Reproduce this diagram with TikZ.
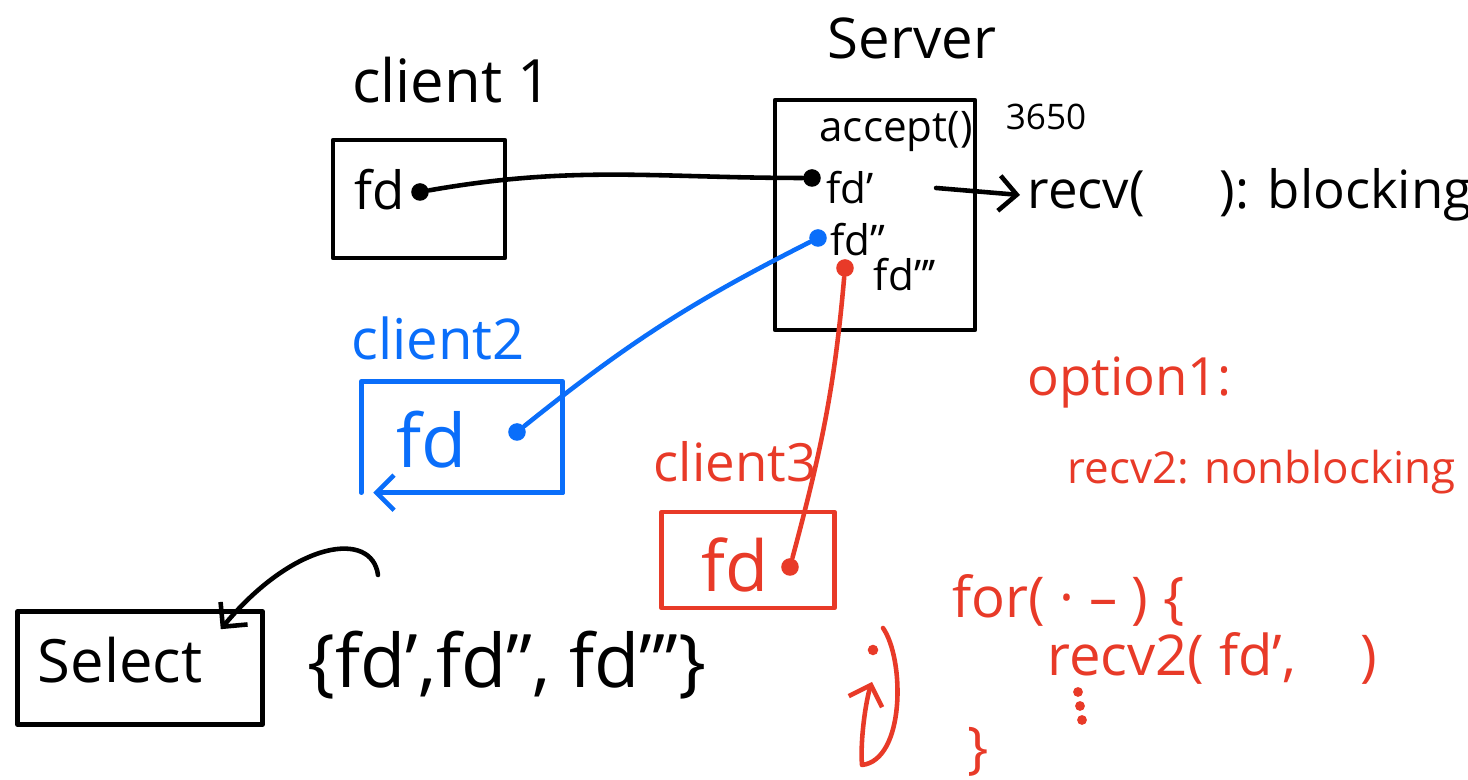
\documentclass[tikz,border=0pt]{standalone}
\usepackage{fontspec}
\setmainfont{Open Sans}
\usetikzlibrary{arrows.meta}
\definecolor{pen_blue}{RGB}{10, 110, 250}
\definecolor{pen_red}{RGB}{232, 58, 40}

\tikzset{
  pen/.style={line width=1.3pt, line cap=round, line join=round},
  box/.style={pen, draw, inner sep=0pt},
  dot/.style={circle, fill, inner sep=0pt, minimum size=5pt},
  tip/.style={-{Straight Barb[length=5pt, width=10pt]}},
  fs/.style={font=\fontsize{#1}{#1}\selectfont}
}

\begin{document}
\begin{tikzpicture}
\useasboundingbox (0, 0) rectangle (14.68, 7.8);

\node[fs=16] (server) at (9.12, 7.42) {Server};
\node[fs=17] (c1label) at (4.52, 7.0) {client 1};

% server socket
\node[box, minimum width=2.0cm, minimum height=2.3cm] (srvbox) at (8.75, 5.65) {};
\node[fs=12] (accept) at (8.96, 6.48) {accept()};
\node[fs=10] (port) at (10.46, 6.63) {3650};
\node[fs=12] (fdp) at (8.5, 5.92) {fd'};
\node[fs=12] (fdpp) at (8.58, 5.40) {fd''};
\node[fs=12] (fdppp) at (9.05, 5.05) {fd'''};
\node[fs=15, anchor=west, inner sep=2pt] (recv) at (10.2, 5.85) {recv(\hspace{0.75cm}): blocking};
\draw[pen, tip] ([xshift=0.5cm]fdp.east) -- (recv.west);

% client 1
\node[box, minimum width=1.72cm, minimum height=1.18cm] (c1box) at (4.19, 5.81) {};
\node[fs=15] (c1fd) at (3.8, 5.9) {fd};
\node[dot] (c1dot) at (4.2, 5.88) {};
\node[dot] (fdpdot) at (8.12, 6.02) {};
\draw[pen] (c1dot) to[out=10, in=180] (fdpdot);

% client 2
\begin{scope}[pen_blue]
\node[fs=16] (c2label) at (4.38, 4.42) {client2};
\node[minimum width=2.0cm, minimum height=1.1cm] (c2box) at (4.62, 3.43) {};
\draw[pen] (c2box.south west) -- (c2box.north west) -- (c2box.north east) -- (c2box.south east);
\draw[pen, tip] (c2box.south east) -- ([xshift=0.12cm]c2box.south west);
\node[fs=21] (c2fd) at (4.32, 3.4) {fd};
\node[dot] (c2dot) at (5.17, 3.48) {};
\node[dot] (fdppdot) at (8.18, 5.42) {};
\draw[pen] (c2dot) to[bend left=6] (fdppdot);
\end{scope}

% client 3
\begin{scope}[pen_red]
\node[fs=15] (c3label) at (7.35, 3.18) {client3};
\node[box, minimum width=1.73cm, minimum height=0.96cm] (c3box) at (7.48, 2.2) {};
\node[fs=20] (c3fd) at (7.35, 2.15) {fd};
\node[dot] (c3dot) at (7.9, 2.13) {};
\node[dot] (fdpprdot) at (8.45, 5.12) {};
\draw[pen] (c3dot) to[out=75, in=-95] (fdpprdot);
\end{scope}

% select
\node[box, minimum width=2.45cm, minimum height=1.13cm] (selbox) at (1.40, 1.12) {};
\node[fs=17] (sel) at (1.2, 1.2) {Select};
\node[fs=21, anchor=west] (fdset) at (2.95, 1.15) {\{fd',fd'', fd'''\}};
\coordinate (selstart) at (3.78, 2.05);
\draw[pen, tip] (selstart) .. controls (3.72, 2.5) and (2.95, 2.4)
  .. ([shift={(-0.44, -0.2)}]selbox.north east);

% option 1
\begin{scope}[pen_red]
\node[fs=15, anchor=west] (opt) at (10.15, 3.97) {option1:};
\node[fs=12.5, anchor=west] (recv2) at (10.55, 3.08) {recv2: nonblocking};
\node[fs=16, anchor=west] (forline) at (9.4, 1.8) {for( · – ) \{};
\node[fs=16, anchor=west] (recv2fd) at (10.35, 1.22) {recv2( fd', \hspace{0.5cm})};
\foreach \x/\y in {10.78/0.88, 10.8/0.74, 10.82/0.6}
  \fill (\x, \y) circle (1.4pt);
\node[fs=16] (forclose) at (9.78, 0.28) {\}};
\coordinate (loopstart) at (8.83, 1.52);
\coordinate (loopend) at (8.72, 0.98);
\fill (8.73, 1.3) circle (1.5pt);
\draw[pen, tip] (loopstart) .. controls (9.05, 1.2) and (9.05, 0.2)
  .. (8.62, 0.15) .. controls (8.6, 0.4) and (8.66, 0.8) .. (loopend);
\end{scope}
\end{tikzpicture}
\end{document}
